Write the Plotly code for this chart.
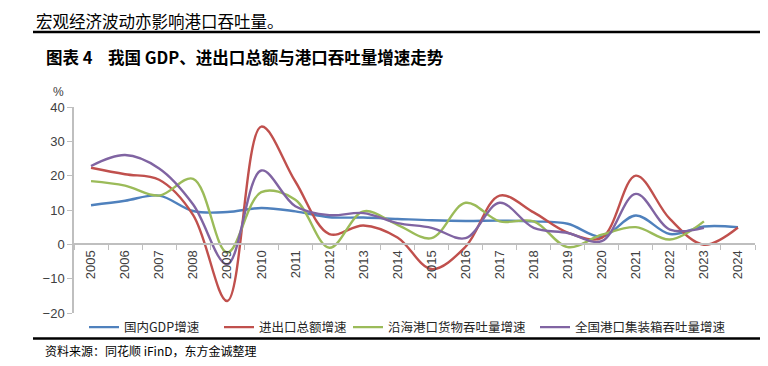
import plotly.graph_objects as go

years = [str(y) for y in range(2005, 2025)]
gdp = [11.4, 12.7, 14.2, 9.7, 9.4, 10.6, 9.6, 7.9, 7.8, 7.4, 7.0, 6.8, 6.9, 6.7, 6.0, 2.2, 8.4, 3.0, 5.2, 5.0]
trade = [22.3, 20.4, 18.8, 8.5, -16.5, 34.3, 18.3, 3.0, 5.5, 2.0, -7.2, -0.7, 14.2, 9.3, 3.4, 1.9, 20.0, 7.4, -0.1, 4.9]
coastal = [18.4, 17.1, 14.2, 19.1, -2.4, 15.2, 13.0, -1.0, 9.6, 5.7, 1.8, 12.1, 6.7, 6.7, -0.8, 2.8, 5.0, 1.4, 6.7]
container = [22.8, 26.0, 22.1, 11.6, -5.8, 21.5, 11.1, 8.5, 9.1, 6.2, 4.8, 1.8, 12.1, 4.8, 3.3, 0.9, 14.7, 4.3, 4.8]

names = ["国内GDP增速", "进出口总额增速", "沿海港口货物吞吐量增速", "全国港口集装箱吞吐量增速"]
colors = ["#4F81BD", "#C0504D", "#9BBB59", "#8064A2"]
series = [gdp, trade, coastal, container]
legend_ids = ["legend", "legend2", "legend3", "legend4"]
legend_line_x = [90, 225, 354, 541]  # on-screen x where each legend line starts

# page renders the figure with an 8px body margin; compensate
OFF = 8
W, H = 768, 366
L = 74 - OFF
T = 107 - OFF
PW = 755 - 74
PH = 313 - 107
R = W - L - PW
B = H - T - PH

def px(x):
    return (x - OFF - L) / PW

def py(y):
    return (T + PH - (y - OFF)) / PH

fig = go.Figure()
for name, col, vals, lid in zip(names, colors, series, legend_ids):
    fig.add_trace(go.Scatter(
        x=years[:len(vals)], y=vals, name=name, mode="lines", legend=lid,
        line=dict(color=col, width=2.4, shape="spline", smoothing=1.0),
    ))

tick_font = dict(family="Liberation Sans, DejaVu Sans, sans-serif", size=13, color="#404040")
cjk = "Noto Sans CJK SC"

legend_common = dict(orientation="h", xanchor="left", y=py(327.5), yanchor="middle",
                     font=dict(family=cjk, size=12.5, color="#262626"),
                     bgcolor="rgba(0,0,0,0)", itemwidth=30, borderwidth=0)
legends = {}
for lid, lx in zip(legend_ids, legend_line_x):
    legends[lid] = dict(legend_common, x=px(lx - 6))

fig.update_layout(
    width=W, height=H,
    margin=dict(l=L, r=R, t=T, b=B),
    paper_bgcolor="white", plot_bgcolor="white",
    showlegend=True,
    **legends,
    xaxis=dict(type="category", anchor="free", position=1/3,
               showline=True, linecolor="#BFBFBF", linewidth=1.5,
               ticks="outside", tickson="boundaries", ticklen=5, tickcolor="#BFBFBF",
               tickangle=-90, tickfont=tick_font, showgrid=False, zeroline=False,
               range=[-0.5, len(years) - 0.5]),
    yaxis=dict(range=[-20, 40], dtick=10, showline=True, linecolor="#BFBFBF", linewidth=1.5,
               ticks="outside", ticklen=5, tickcolor="#BFBFBF", tickfont=tick_font,
               showgrid=False, zeroline=False),
)

fig.add_annotation(text="宏观经济波动亦影响港口吞吐量。", xref="paper", yref="paper",
                   x=px(35), y=py(8), xanchor="left", yanchor="top", showarrow=False, borderpad=0,
                   font=dict(family=cjk, size=16.5, color="#000000"))
fig.add_annotation(text="<b>图表 4</b>", xref="paper", yref="paper",
                   x=px(44), y=py(57), xanchor="left", yanchor="middle", showarrow=False,
                   font=dict(family=cjk, size=16.5, color="#000000"))
fig.add_annotation(text="<b>我国 GDP、进出口总额与港口吞吐量增速走势</b>", xref="paper", yref="paper",
                   x=px(106), y=py(57), xanchor="left", yanchor="middle", showarrow=False,
                   font=dict(family=cjk, size=16.5, color="#000000"))
fig.add_annotation(text="%", xref="paper", yref="paper",
                   x=px(58), y=py(92), xanchor="center", yanchor="middle", showarrow=False,
                   font=dict(family="Liberation Sans, sans-serif", size=12, color="#404040"))
fig.add_annotation(text="资料来源：同花顺 iFinD，东方金诚整理", xref="paper", yref="paper",
                   x=px(43), y=py(350), xanchor="left", yanchor="middle", showarrow=False,
                   font=dict(family=cjk, size=12, color="#000000"))

fig.add_shape(type="line", xref="paper", yref="paper", x0=px(33), x1=px(780), y0=py(32), y1=py(32),
              line=dict(color="#000000", width=2.5))
fig.add_shape(type="line", xref="paper", yref="paper", x0=px(33), x1=px(780), y0=py(338.5), y1=py(338.5),
              line=dict(color="#000000", width=2.5))

fig.write_html("out.html")
